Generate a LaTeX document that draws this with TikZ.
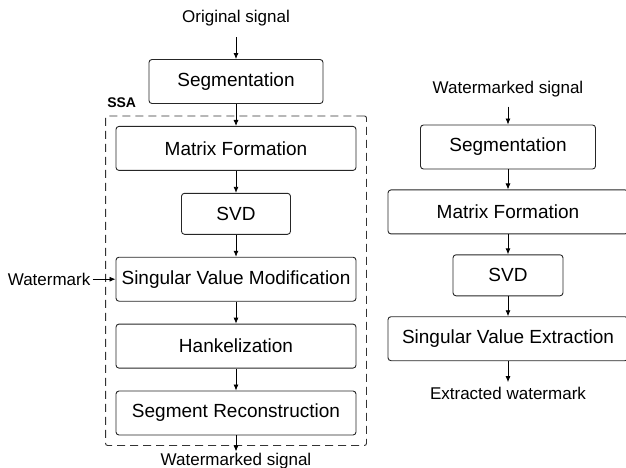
\documentclass[tikz,border=0pt]{standalone}
\usepackage{fontspec}
\setmainfont{Liberation Sans}
\usetikzlibrary{arrows.meta}
\usetikzlibrary{positioning}
\usetikzlibrary{fit}

\tikzset{
    stage/.style={draw=black!85, line width=0.9pt, rounded corners=3pt,
        minimum height=44pt, inner sep=0pt, font=\fontsize{19}{23}\selectfont},
    narrow/.style={stage, minimum width=174pt},
    wide/.style={stage, minimum width=240pt},
    svdbox/.style={stage, minimum width=109pt, minimum height=41pt},
    sig/.style={inner sep=0pt, font=\fontsize{17}{20}\selectfont},
    flow/.style={draw, line width=0.8pt, -{Latex[length=6pt,width=5pt]}},
}

\begin{document}
\begin{tikzpicture}[x=1pt, y=-1pt]
    \useasboundingbox (0,0) rectangle (626,467);

    \node[narrow] (seg) at (236,81.5) {Segmentation};
    \node[sig, above=33pt of seg] (orig) {Original signal};
    \node[wide, below=22pt of seg] (mf) {Matrix Formation};
    \node[svdbox, below=22pt of mf] (svd) {SVD};
    \node[wide, below=22pt of svd] (svm) {Singular Value Modification};
    \node[wide, below=22pt of svm] (hank) {Hankelization};
    \node[wide, below=22pt of hank] (segr) {Segment Reconstruction};
    \node[sig, below=18pt of segr] (wsig) {Watermarked signal};
    \node[sig, left=25pt of svm] (wm) {Watermark};
    \node[draw=black!80, line width=0.9pt, dash pattern=on 8pt off 5pt,
        rounded corners=2pt, inner sep=10pt, fit=(mf)(segr)] (ssa) {};
    \node[inner sep=0pt, anchor=south west, font=\bfseries\fontsize{14}{16}\selectfont]
        (ssalbl) at ([xshift=2pt, yshift=8pt]ssa.north west) {SSA};

    \node[narrow, minimum width=175pt] (rseg) at (508,147) {Segmentation};
    \node[sig, above=27pt of rseg] (rwsig) {Watermarked signal};
    \node[wide, below=20pt of rseg] (rmf) {Matrix Formation};
    \node[svdbox, minimum width=110pt, below=20pt of rmf] (rsvd) {SVD};
    \node[wide, below=20pt of rsvd] (rsve) {Singular Value Extraction};
    \node[sig, below=26pt of rsve] (ewm) {Extracted watermark};

    \draw[flow, shorten <=11pt] (orig) -- (seg);
    \draw[flow] (seg) -- (mf);
    \draw[flow] (mf) -- (svd);
    \draw[flow] (svd) -- (svm);
    \draw[flow] (svm) -- (hank);
    \draw[flow] (hank) -- (segr);
    \draw[flow, shorten >=2pt] (segr) -- (wsig);
    \draw[flow, shorten <=2pt] (wm) -- (svm);

    \draw[flow, shorten <=9pt] (rwsig) -- (rseg);
    \draw[flow] (rseg) -- (rmf);
    \draw[flow] (rmf) -- (rsvd);
    \draw[flow] (rsvd) -- (rsve);
    \draw[flow, shorten >=5pt] (rsve) -- (ewm);
\end{tikzpicture}
\end{document}
